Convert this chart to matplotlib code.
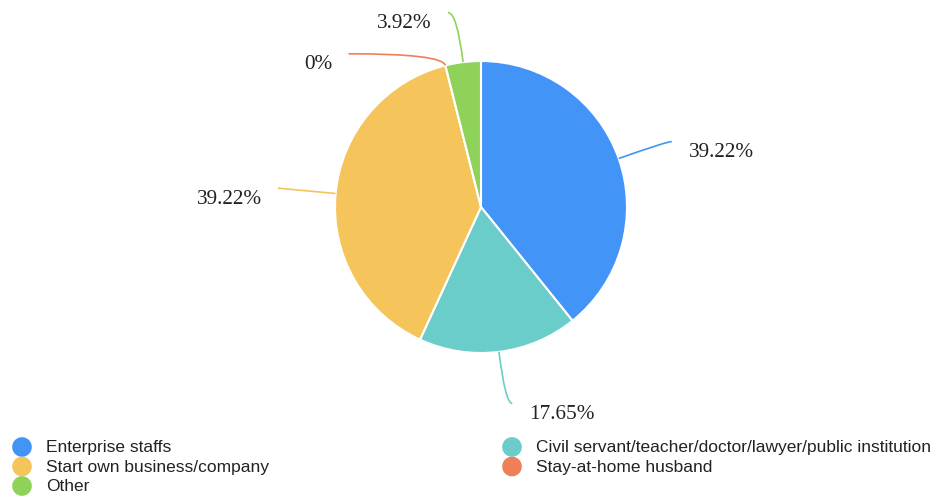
import numpy as np
import matplotlib.pyplot as plt
from matplotlib.path import Path
from matplotlib.patches import PathPatch

# slices in clockwise order from 12 o'clock
labels = ["Enterprise staffs",
          "Civil servant/teacher/doctor/lawyer/public institution",
          "Start own business/company",
          "Stay-at-home husband",
          "Other"]
shares = [39.22, 17.65, 39.22, 0.0, 3.92]
colors = ["#4394f7", "#6bcdc9", "#f5c55c", "#ee7f57", "#8ed25a"]

# leader line: radial length, horizontal length (sign = side)
lead1 = [51, 52, 58, 12, 50]
lead2 = [5, 7, 0, -94, -9]

W, H = 934, 502
cx, cy, R = 481, 208, 146

fig = plt.figure(figsize=(W / 100, H / 100), dpi=100)
ax = fig.add_axes([0, 0, 1, 1])

ax.pie(shares, colors=colors, center=(cx, cy), radius=R,
       startangle=-90, counterclock=True,
       wedgeprops=dict(edgecolor="white", linewidth=1.5))
ax.set_xlim(0, W)
ax.set_ylim(H, 0)
ax.set_aspect("equal")
ax.axis("off")

total = sum(shares)
start = -90.0
for val, col, l1, l2 in zip(shares, colors, lead1, lead2):
    sweep = val / total * 360
    mid = np.deg2rad(start + sweep / 2)
    start += sweep
    d = np.array([np.cos(mid), np.sin(mid)])
    p0 = np.array([cx, cy]) + R * d
    p1 = p0 + l1 * d
    p2 = p1 + np.array([l2, 0])
    if l2 == 0:
        p2 = p1
    path = Path([p0, p1, p2], [Path.MOVETO, Path.CURVE3, Path.CURVE3])
    ax.add_patch(PathPatch(path, fc="none", ec=col, lw=1.2))
    right = p2[0] >= cx
    tx = p2[0] + (17 if right else -16)
    ax.text(tx, p2[1] + 10, f"{val:g}%", ha="left" if right else "right",
            va="center", fontsize=15.3, family="Liberation Serif",
            color="#222222")

# legend, two columns filled row by row
leg_x = [22, 512]
leg_y0, leg_dy = 448, 19.5
for i, (lab, col) in enumerate(zip(labels, colors)):
    x = leg_x[i % 2]
    y = leg_y0 + (i // 2) * leg_dy
    ax.scatter([x], [y], s=200, color=col, edgecolor="none")
    ax.text(x + 24, y, lab, ha="left", va="center", fontsize=12.5,
            family="Liberation Sans", color="#222222")

fig.savefig("out.png", dpi=100)
